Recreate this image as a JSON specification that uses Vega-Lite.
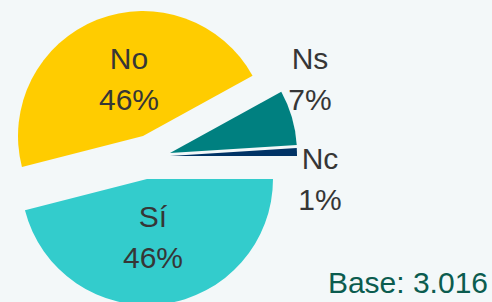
{
  "$schema": "https://vega.github.io/schema/vega-lite/v6.json",
  "width": 492,
  "height": 302,
  "autosize": "none",
  "padding": 0,
  "background": "#f3f8f9",
  "config": {"view": {"stroke": null}, "font": "Liberation Sans"},
  "data": {"values": [
    {"cat": "Ns", "pct": 7},
    {"cat": "Nc", "pct": 1},
    {"cat": "Sí", "pct": 46},
    {"cat": "No", "pct": 46}
  ]},
  "transform": [
    {"stack": "pct", "groupby": [], "as": ["p0", "p1"]},
    {"calculate": "[datum.cat, datum.pct + '%']", "as": "lab"}
  ],
  "layer": [
    {
      "encoding": {
        "theta": {"field": "p0", "type": "quantitative", "stack": null, "scale": {"domain": [0, 100], "range": [1.0681, 7.3513]}},
        "theta2": {"field": "p1"},
        "color": {"field": "cat", "type": "nominal", "scale": {"domain": ["No", "Ns", "Nc", "Sí"], "range": ["#FFCC00", "#008080", "#003366", "#33CCCC"]}, "legend": null}
      },
      "layer": [
        {"transform": [{"filter": "datum.cat === 'Ns'"}], "mark": {"type": "arc", "outerRadius": 127, "xOffset": -76, "yOffset": 2}},
        {"transform": [{"filter": "datum.cat === 'Nc'"}], "mark": {"type": "arc", "outerRadius": 127, "xOffset": -76, "yOffset": 5}},
        {"transform": [{"filter": "datum.cat === 'Sí'"}], "mark": {"type": "arc", "outerRadius": 126, "xOffset": -99, "yOffset": 28}},
        {"transform": [{"filter": "datum.cat === 'No'"}], "mark": {"type": "arc", "outerRadius": 125, "xOffset": -103, "yOffset": -15}}
      ]
    },
    {
      "encoding": {"text": {"field": "lab"}},
      "layer": [
        {"transform": [{"filter": "datum.cat === 'No'"}], "mark": {"type": "text", "fontSize": 30, "lineHeight": 41, "align": "center", "baseline": "alphabetic", "color": "#363636", "xOffset": -117, "yOffset": -82}},
        {"transform": [{"filter": "datum.cat === 'Ns'"}], "mark": {"type": "text", "fontSize": 30, "lineHeight": 41, "align": "center", "baseline": "alphabetic", "color": "#363636", "xOffset": 64, "yOffset": -82}},
        {"transform": [{"filter": "datum.cat === 'Nc'"}], "mark": {"type": "text", "fontSize": 30, "lineHeight": 41, "align": "center", "baseline": "alphabetic", "color": "#363636", "xOffset": 74, "yOffset": 18}},
        {"transform": [{"filter": "datum.cat === 'Sí'"}], "mark": {"type": "text", "fontSize": 30, "lineHeight": 41, "align": "center", "baseline": "alphabetic", "color": "#363636", "xOffset": -93, "yOffset": 76}}
      ]
    },
    {
      "data": {"values": [{"label": "Base: 3.016"}]},
      "mark": {"type": "text", "fontSize": 30, "align": "right", "baseline": "alphabetic", "color": "#0b5c4f", "xOffset": 242, "yOffset": 142},
      "encoding": {"text": {"field": "label"}}
    }
  ]
}
